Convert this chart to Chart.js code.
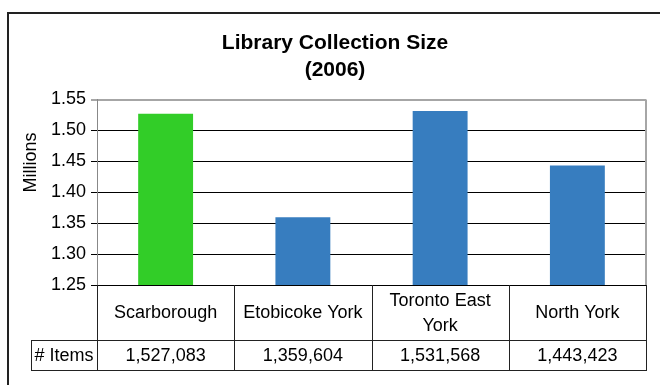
<!DOCTYPE html>
<html>
<head>
<meta charset="utf-8">
<script src="https://cdn.jsdelivr.net/npm/chart.js@4"></script>
<style>
  html, body { margin: 0; padding: 0; background: #fff; }
  #wrap { width: 660px; height: 385px; }
</style>
</head>
<body>
<div id="wrap"><canvas id="libChart" width="660" height="385"></canvas></div>
<script>
// branch names and collection counts
const branches = ["Scarborough", "Etobicoke York", ["Toronto East", "York"], "North York"];
const items = [1527083, 1359604, 1531568, 1443423];
const barColors = ["#32CD28", "#377DBF", "#377DBF", "#377DBF"];
const yTicks = [1.25, 1.30, 1.35, 1.40, 1.45, 1.50, 1.55];
const rowLabel = "# Items";

const millions = items.map(v => v / 1e6);

const FONT = "'Liberation Sans', Arial, sans-serif";

// outer frame + axis title + data table under the bars
const tablePlugin = {
  id: "dataTable",
  beforeDraw(chart) {
    const ctx = chart.ctx;
    ctx.save();
    ctx.strokeStyle = "#222";
    ctx.lineWidth = 2;
    ctx.strokeRect(8, 13, 720, 420);
    ctx.restore();
  },
  afterDraw(chart) {
    const ctx = chart.ctx;
    const area = chart.chartArea;
    const n = branches.length;
    const colW = (area.right - area.left) / n;
    const row1 = area.bottom, row2 = 340, row3 = 370;
    const labelLeft = 31;

    ctx.save();
    // right and top edge of plot
    ctx.strokeStyle = "#a6a6a6";
    ctx.lineWidth = 2;
    ctx.beginPath();
    ctx.moveTo(area.right, area.top);
    ctx.lineTo(area.right, area.bottom);
    ctx.stroke();

    ctx.strokeStyle = "#222";
    ctx.lineWidth = 1;
    ctx.beginPath();
    for (let i = 0; i <= n; i++) {
      const x = Math.round(area.left + i * colW) + 0.5;
      ctx.moveTo(x, row1);
      ctx.lineTo(x, row3);
    }
    ctx.moveTo(labelLeft + 0.5, row2);
    ctx.lineTo(labelLeft + 0.5, row3);
    ctx.moveTo(labelLeft, row2 + 0.5);
    ctx.lineTo(area.right + 1, row2 + 0.5);
    ctx.moveTo(labelLeft, row3 + 0.5);
    ctx.lineTo(area.right + 1, row3 + 0.5);
    ctx.stroke();

    ctx.fillStyle = "#000";
    ctx.font = "18px " + FONT;
    ctx.textAlign = "center";
    ctx.textBaseline = "middle";
    const xScale = chart.scales.x;
    branches.forEach((name, i) => {
      const cx = xScale.getPixelForValue(i);
      const lines = Array.isArray(name) ? name : [name];
      const lh = 25;
      const y0 = (row1 + row2) / 2 - (lines.length - 1) * lh / 2;
      lines.forEach((t, j) => ctx.fillText(t, cx, y0 + j * lh + 1));
      ctx.fillText(items[i].toLocaleString("en-US"), cx, (row2 + row3) / 2 + 1);
    });
    ctx.fillText(rowLabel, (labelLeft + area.left) / 2, (row2 + row3) / 2 + 1);

    // y axis title
    ctx.translate(31.5, 162.5);
    ctx.rotate(-Math.PI / 2);
    ctx.fillText("Millions", 0, 0);
    ctx.restore();
  }
};

new Chart(document.getElementById("libChart"), {
  type: "bar",
  data: {
    labels: branches,
    datasets: [{
      data: millions,
      backgroundColor: barColors,
      borderWidth: 0,
      barPercentage: 0.4,
      categoryPercentage: 1
    }]
  },
  options: {
    responsive: false,
    animation: false,
    layout: { padding: { left: 24, right: 14, top: 0, bottom: 100 } },
    plugins: {
      legend: { display: false },
      tooltip: { enabled: false },
      title: {
        display: true,
        text: ["Library Collection Size", "(2006)"],
        color: "#000",
        font: { family: FONT, size: 21, weight: "bold", lineHeight: 1.25 },
        padding: { top: 30.5, bottom: 16.5 }
      }
    },
    scales: {
      x: { display: false },
      y: {
        min: yTicks[0],
        max: yTicks[yTicks.length - 1],
        afterFit(scale) { scale.width = 73; },
        afterBuildTicks(scale) { scale.ticks = yTicks.map(v => ({ value: v })); },
        ticks: {
          color: "#000",
          padding: 5,
          font: { family: FONT, size: 18 },
          callback: v => Number(v).toFixed(2)
        },
        grid: {
          tickLength: 6,
          color: c => (c.tick && Math.abs(c.tick.value - 1.55) < 1e-9) ? "#a6a6a6" : "#000",
          lineWidth: c => (c.tick && Math.abs(c.tick.value - 1.55) < 1e-9) ? 2 : 1
        },
        border: { color: "#888", width: 1 }
      }
    }
  },
  plugins: [tablePlugin]
});
</script>
</body>
</html>
